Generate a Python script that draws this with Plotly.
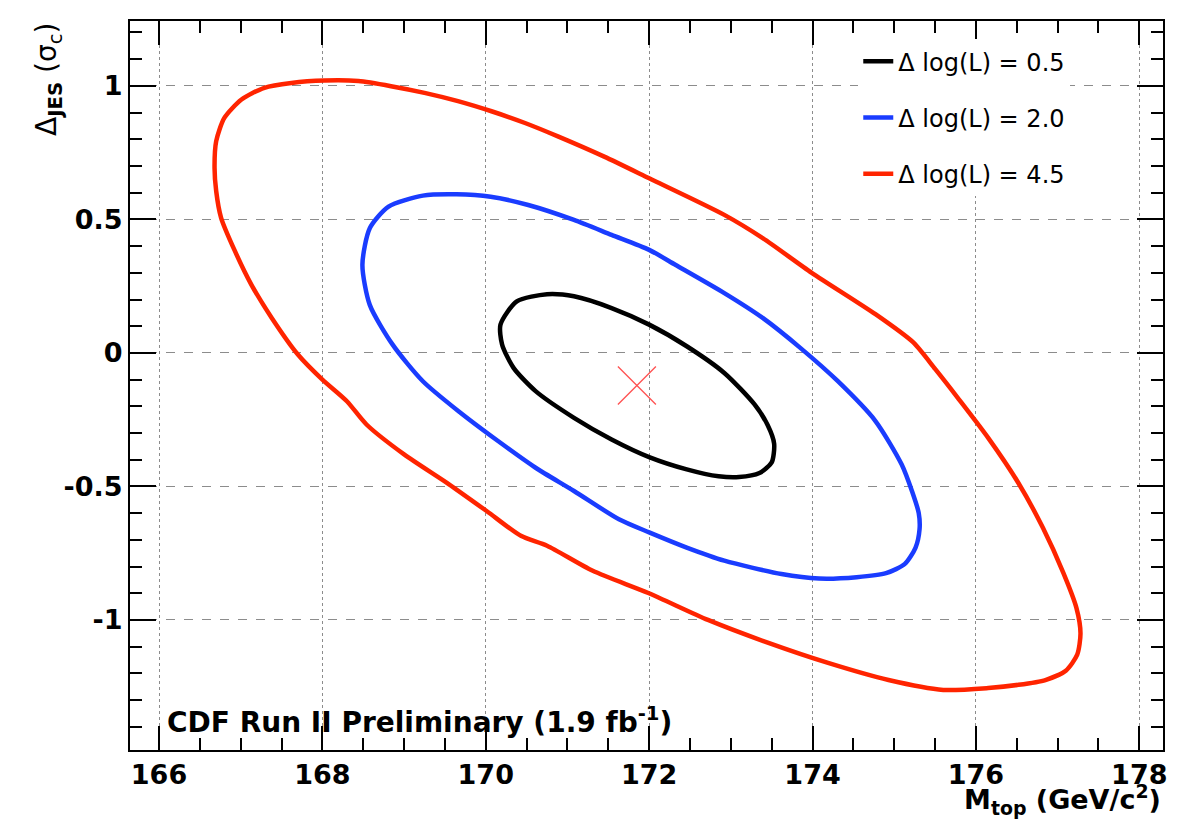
import plotly.graph_objects as go

# ---------------- data ----------------
# Delta log(L) = 0.5 contour (black)
black_m = [170.18, 170.38, 170.75, 171.08, 171.54, 172.00, 172.46, 172.92, 173.29, 173.45, 173.53,
           173.50, 173.35, 173.10, 172.85, 172.46, 172.00, 171.54, 171.08, 170.61, 170.34, 170.20,
           170.18]
black_j = [0.106, 0.193, 0.220, 0.212, 0.168, 0.106, 0.025, -0.075, -0.193, -0.270, -0.340,
           -0.410, -0.450, -0.465, -0.462, -0.436, -0.390, -0.324, -0.243, -0.143, -0.056, 0.031,
           0.106]

# Delta log(L) = 2.0 contour (blue)
blue_m = [169.64, 170.06, 170.52, 171.08, 171.54, 172.00, 172.32, 172.92, 173.39, 173.85, 174.31,
          174.77, 175.09, 175.22, 175.30, 175.31, 175.26, 175.13, 174.90, 174.54, 174.08, 173.62,
          172.92, 172.46, 172.00, 171.63, 171.08, 170.61, 170.15, 169.69, 169.23, 168.86, 168.58,
          168.49, 168.58, 168.81, 169.23, 169.64]
blue_j = [0.594, 0.585, 0.554, 0.498, 0.442, 0.386, 0.330, 0.224, 0.131, 0.019, -0.106,
          -0.255, -0.417, -0.520, -0.600, -0.660, -0.730, -0.790, -0.825, -0.840, -0.845, -0.828,
          -0.778, -0.729, -0.672, -0.623, -0.517, -0.430, -0.330, -0.224, -0.106, 0.031, 0.180,
          0.330, 0.467, 0.548, 0.589, 0.594]

# Delta log(L) = 4.5 contour (red)
red_m = [168.03, 168.44, 168.84, 169.25, 169.66, 170.07, 170.48, 170.89, 171.45, 172.00, 172.92,
         173.39, 173.99, 174.77, 175.23, 175.50, 175.78, 176.15, 176.52, 176.82, 177.07, 177.23,
         177.28, 177.24, 177.10, 176.85, 176.52, 176.15, 175.60, 174.93, 174.19, 173.46, 172.72,
         171.99, 171.31, 170.75, 170.43, 170.01, 169.55, 169.00, 168.54, 168.30, 168.00, 167.70,
         167.38, 167.13, 166.93, 166.76, 166.70, 166.68, 166.70, 166.80, 167.01, 167.29, 167.62,
         168.03]
red_j = [1.020, 1.018, 0.999, 0.974, 0.943, 0.905, 0.861, 0.810, 0.735, 0.654, 0.517,
         0.430, 0.300, 0.145, 0.040, -0.060, -0.169, -0.318, -0.487, -0.655, -0.824, -0.955,
         -1.050, -1.130, -1.190, -1.225, -1.243, -1.255, -1.262, -1.225, -1.161, -1.086, -1.000,
         -0.899, -0.816, -0.722, -0.685, -0.592, -0.492, -0.380, -0.268, -0.181, -0.100, -0.006,
         0.131, 0.256, 0.381, 0.506, 0.606, 0.693, 0.793, 0.880, 0.949, 0.993, 1.011,
         1.020]

# best-fit point
best_m = [171.85]
best_j = [-0.122]

legend_names = ["\u0394 log(L) = 0.5", "\u0394 log(L) = 2.0", "\u0394 log(L) = 4.5"]
x_tickvals = [166, 168, 170, 172, 174, 176, 178]
x_ticktext = ["166", "168", "170", "172", "174", "176", "178"]
y_tickvals = [-1, -0.5, 0, 0.5, 1]
y_ticktext = ["-1", "-0.5", "0", "0.5", "1"]

# ---------------- figure ----------------
FONT = "DejaVu Sans, Liberation Sans, Arial, sans-serif"
colors = ["#000000", "#1a3cff", "#ff2400"]

fig = go.Figure()
for i, (xs, ys) in enumerate([(black_m, black_j), (blue_m, blue_j), (red_m, red_j)]):
    fig.add_trace(go.Scatter(
        x=xs, y=ys, mode="lines", name=legend_names[i], legendgroup=f"g{i}",
        line=dict(color=colors[i], width=4.5, shape="spline", smoothing=0.7),
        hoverinfo="skip"))

fig.add_trace(go.Scatter(
    x=best_m, y=best_j, mode="markers", showlegend=False, hoverinfo="skip",
    marker=dict(symbol="x-thin", size=38, line=dict(color="#ff5050", width=1.3))))

axis_common = dict(
    showline=True, linecolor="black", linewidth=2, mirror="allticks",
    ticks="inside", tickcolor="black", tickwidth=1.5,
    showgrid=True, gridcolor="#8c8c8c", gridwidth=1,
    zeroline=False,
    tickfont=dict(family=FONT, size=27, color="black", weight="bold"),
)

fig.update_xaxes(
    **axis_common, range=[165.645, 178.29], tickmode="array",
    tickvals=x_tickvals, ticktext=x_ticktext, ticklen=24, griddash="dot",
    minor=dict(ticks="inside", ticklen=12, dtick=0.5, tick0=166, tickcolor="black",
               tickwidth=1.5, showgrid=False),
)
fig.update_yaxes(
    **axis_common, range=[-1.487, 1.243], tickmode="array",
    tickvals=y_tickvals, ticktext=y_ticktext, ticklen=26, griddash="dash",
    minor=dict(ticks="inside", ticklen=12, dtick=0.1, tick0=0, tickcolor="black",
               tickwidth=1.5, showgrid=False),
)

fig.add_annotation(
    text="<b>M</b><sub><b>top</b></sub><b> (GeV/c</b><sup><b>2</b></sup><b>)</b>",
    xref="paper", yref="paper", x=1.0, y=-0.038, xanchor="right", yanchor="top",
    showarrow=False, font=dict(family=FONT, size=27, color="black"))

fig.add_annotation(
    text="\u0394<sub><b>JES</b></sub> (\u03c3<sub>c</sub>)",
    xref="paper", yref="paper", x=-0.079, y=1.0, xanchor="center", yanchor="top",
    textangle=-90, showarrow=False, font=dict(family=FONT, size=28, color="black"))

fig.add_annotation(
    text="<b>CDF Run II Preliminary (1.9 fb</b><sup><b>-1</b></sup><b>)</b>",
    xref="paper", yref="paper", x=0.034, y=0.012, xanchor="left", yanchor="bottom",
    showarrow=False, font=dict(family=FONT, size=28, color="black"))

fig.update_layout(
    width=1181, height=824,
    margin=dict(l=122, r=26, t=13, b=82),
    paper_bgcolor="white", plot_bgcolor="white",
    showlegend=True,
    legend=dict(
        x=0.705, y=0.975, xanchor="left", yanchor="top",
        bgcolor="white", borderwidth=0, tracegroupgap=22,
        font=dict(family=FONT, size=24, color="black"),
    ),
)

fig.write_html("out.html")
